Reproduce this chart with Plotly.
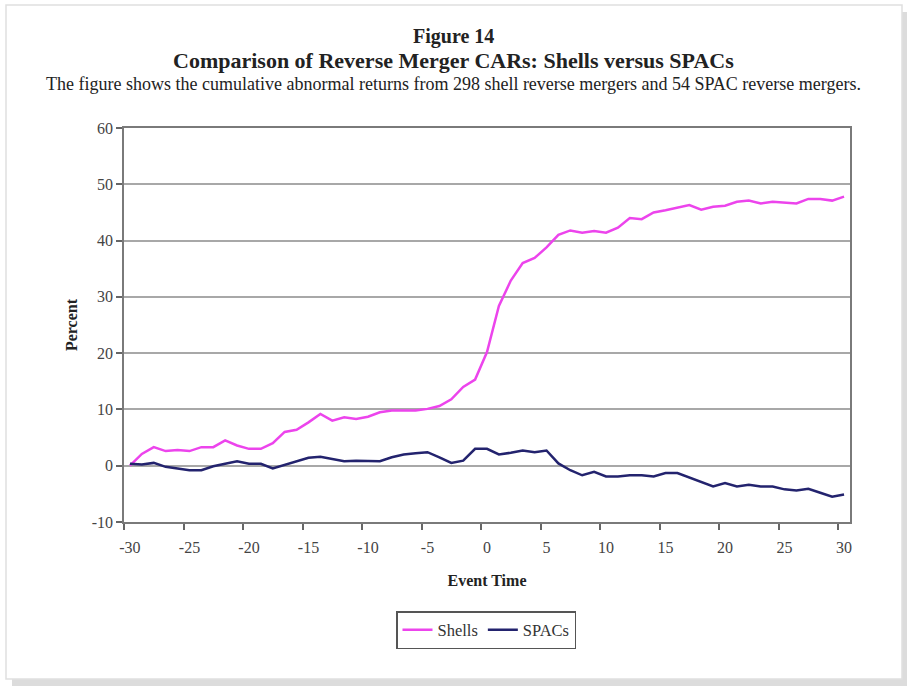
import plotly.graph_objects as go

event_time = list(range(-30, 31))
shells = [0.0, 2.1, 3.3, 2.6, 2.8, 2.6, 3.3, 3.3, 4.5, 3.6, 3.0, 3.0, 4.0, 6.0, 6.4, 7.7,
          9.2, 8.0, 8.6, 8.3, 8.7, 9.5, 9.8, 9.8, 9.8, 10.1, 10.6, 11.8, 14.0, 15.3,
          20.2, 28.4, 32.9, 36.0, 36.9, 38.8, 41.0, 41.8, 41.4, 41.7, 41.4, 42.3, 44.0,
          43.8, 45.0, 45.4, 45.8, 46.3, 45.5, 46.0, 46.2, 46.9, 47.1, 46.6, 46.9, 46.8,
          46.6, 47.4, 47.4, 47.1, 47.8]
spacs = [0.35, 0.2, 0.5, -0.2, -0.5, -0.8, -0.8, -0.1, 0.35, 0.8, 0.35, 0.35, -0.5, 0.1,
         0.8, 1.4, 1.6, 1.2, 0.8, 0.9, 0.9, 0.8, 1.5, 2.0, 2.2, 2.4, 1.5, 0.5, 0.9, 3.0,
         3.0, 2.0, 2.3, 2.7, 2.4, 2.7, 0.4, -0.8, -1.7, -1.1, -1.9, -1.9, -1.7, -1.7,
         -1.9, -1.3, -1.3, -2.1, -2.9, -3.7, -3.1, -3.7, -3.4, -3.7, -3.7, -4.2, -4.4,
         -4.1, -4.8, -5.5, -5.1]
x_ticks = list(range(-30, 31, 5))
y_ticks = list(range(-10, 61, 10))

serif = "Liberation Serif, Times New Roman, serif"

W, H = 907, 686
L, R, T, B = 124, 850, 128, 522
def px(v):
    return (v - L) / (R - L)
def py(v):
    return (B - v) / (B - T)

fig = go.Figure()
fig.add_trace(go.Scatter(x=event_time, y=shells, mode="lines", name="Shells",
                         line=dict(color="#ec44ec", width=2.5)))
fig.add_trace(go.Scatter(x=event_time, y=spacs, mode="lines", name="SPACs",
                         line=dict(color="#23236e", width=2.5)))

fig.update_layout(
    width=W, height=H,
    margin=dict(l=L, r=W - R, t=T, b=H - B),
    paper_bgcolor="white", plot_bgcolor="white",
    font=dict(family=serif, color="#333333", size=15),
    showlegend=True,
    legend=dict(orientation="h", x=px(486), xanchor="center", y=py(611), yanchor="top",
                bordercolor="#555555", borderwidth=1.5, font=dict(size=16.5, color="#333333"),
                itemwidth=30, tracegroupgap=0),
    xaxis=dict(range=[-30.5, 30.5], tickvals=x_ticks, ticktext=[str(v) for v in x_ticks],
               ticks="", showgrid=False, zeroline=False, showline=True, linecolor="#7a7a7a",
               linewidth=1.5, mirror=True, tickfont=dict(size=16, color="#444444"),
               ticklabelstandoff=10,
               minor=dict(ticks="outside", tick0=-30.5, dtick=5, ticklen=6,
                          tickcolor="#666666", tickwidth=1.5, showgrid=False),
               title=dict(text="<b>Event Time</b>", font=dict(size=16, color="#222222"),
                          standoff=20)),
    yaxis=dict(range=[-10, 60], tickvals=y_ticks, ticktext=[str(v) for v in y_ticks],
               ticks="outside", ticklen=6,
               tickcolor="#666666", tickwidth=1.5, showgrid=True, gridcolor="#a8a8a8",
               gridwidth=1.5, zeroline=False, showline=True, linecolor="#7a7a7a",
               linewidth=1.5, mirror=True, tickfont=dict(size=16, color="#444444"),
               title=dict(text="<b>Percent</b>", font=dict(size=16, color="#222222"),
                          standoff=10)),
)

# Titles (centred on the page)
cx = px(453.5)
fig.add_annotation(text="<b>Figure 14</b>", xref="paper", yref="paper", x=cx, y=py(36.5),
                   showarrow=False, font=dict(size=20, color="#222222", family=serif),
                   xanchor="center", yanchor="middle")
fig.add_annotation(text="<b>Comparison of Reverse Merger CARs: Shells versus SPACs</b>",
                   xref="paper", yref="paper", x=cx, y=py(60.5), showarrow=False,
                   font=dict(size=22, color="#222222", family=serif),
                   xanchor="center", yanchor="middle")
fig.add_annotation(text="The figure shows the cumulative abnormal returns from 298 shell reverse mergers and 54 SPAC reverse mergers.",
                   xref="paper", yref="paper", x=cx, y=py(83.5), showarrow=False,
                   font=dict(size=18, color="#222222", family=serif),
                   xanchor="center", yanchor="middle")

# Outer frame with soft shadow on right and bottom
fig.add_shape(type="rect", xref="paper", yref="paper", layer="below",
              x0=px(902), x1=px(907), y0=py(686), y1=py(12),
              line=dict(width=0), fillcolor="#dcdcdc")
fig.add_shape(type="rect", xref="paper", yref="paper", layer="below",
              x0=px(12), x1=px(907), y0=py(686), y1=py(679),
              line=dict(width=0), fillcolor="#dcdcdc")
fig.add_shape(type="rect", xref="paper", yref="paper", layer="below",
              x0=px(6), x1=px(902), y0=py(679), y1=py(5),
              line=dict(color="#e0e0e0", width=1.5))

# remove the default page margin so the figure fills the window exactly
fig.write_html("out.html", config={"displayModeBar": False},
               post_script="document.body.style.margin='0';")
